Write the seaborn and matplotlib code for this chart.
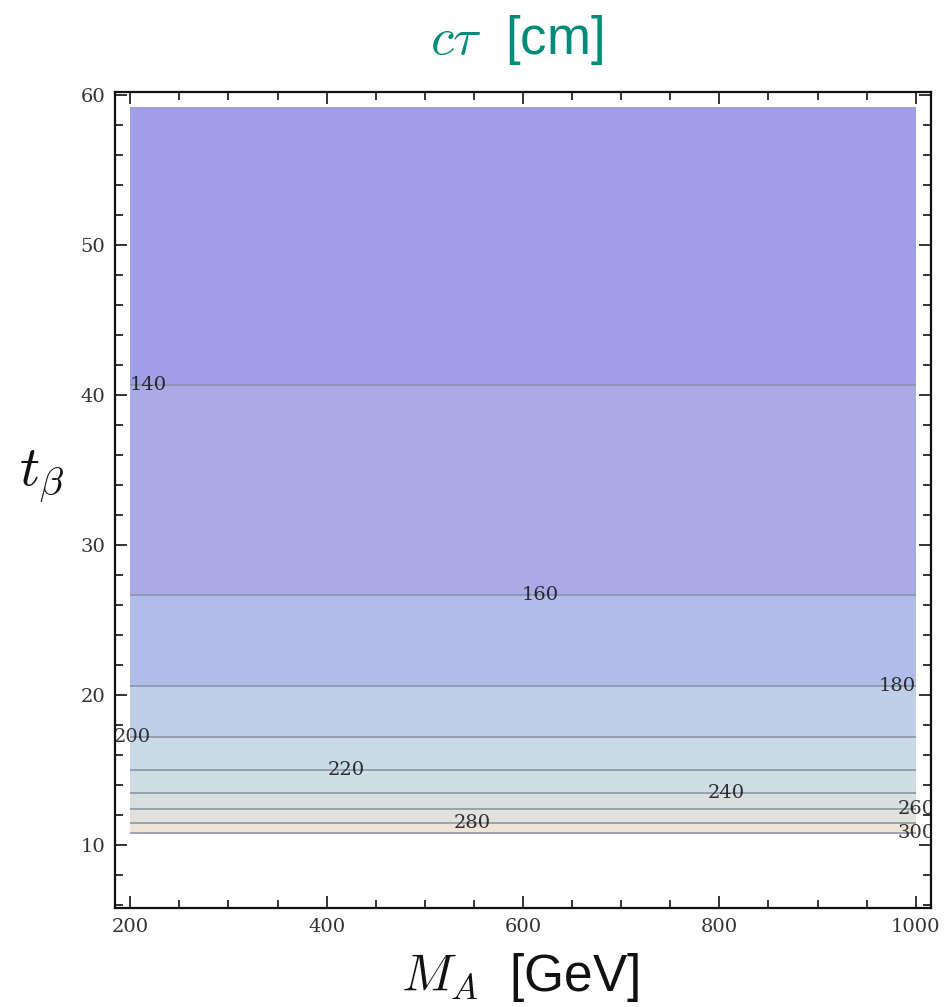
import numpy as np
import matplotlib
matplotlib.use("Agg")
import matplotlib.pyplot as plt
from matplotlib.ticker import MultipleLocator
import seaborn as sns

# Decay length c*tau [cm] versus t_beta (independent of M_A across the scan)
tb_rows = [59.2, 40.7, 26.7, 20.6, 17.2, 15.0, 13.5, 12.4, 11.45, 10.8, 10.72]
ct_rows = [124, 140, 160, 180, 200, 220, 240, 260, 280, 300, 301]
ma_cols = [200, 1000]

levels = [140, 160, 180, 200, 220, 240, 260, 280, 300]
fill_levels = [120, 140, 160, 180, 200, 220, 240, 260, 280, 302]
band_colors = ["#9f9fe8", "#a8abe6", "#b2bce8", "#bfcfe8", "#c7dae6",
               "#cfdee4", "#d8e0df", "#e2e2dc", "#ede5d8"]

# label anchor points (M_A, t_beta) along each contour
label_pos = [(218, 40.7), (618, 26.7), (981, 20.6), (202, 17.2), (420, 15.0),
             (807, 13.5), (1000, 12.4), (548, 11.45), (1000, 10.8)]

sns.set_theme(style="ticks")
plt.rcParams["mathtext.fontset"] = "cm"
plt.rcParams["font.family"] = ["Liberation Sans", "DejaVu Sans"]

fig = plt.figure(figsize=(9.45, 10.07), dpi=100)
ax = fig.add_axes([0.1217, 0.0983, 0.8635, 0.8103])

MA, TB = np.meshgrid(ma_cols, tb_rows)
CT = np.tile(np.array(ct_rows, dtype=float)[:, None], (1, len(ma_cols)))

ax.contourf(MA, TB, CT, levels=fill_levels,
            colors=sns.color_palette(band_colors), zorder=1)
cs = ax.contour(MA, TB, CT, levels=levels, colors="#8790a4",
                linewidths=1.3, alpha=0.85, zorder=2)
labels = ax.clabel(cs, levels=levels, inline=False, fmt="%d", fontsize=14,
                   colors="#111111", manual=label_pos)
for t in labels:
    t.set_fontfamily("DejaVu Serif")
    t.set_zorder(3)

ax.set_xlim(184.5, 1015.5)
ax.set_ylim(5.8, 60.2)
ax.xaxis.set_major_locator(MultipleLocator(200))
ax.xaxis.set_minor_locator(MultipleLocator(50))
ax.yaxis.set_major_locator(MultipleLocator(10))
ax.yaxis.set_minor_locator(MultipleLocator(2))
ax.tick_params(which="both", direction="in", top=True, right=True,
               labeltop=False, labelright=False, color="#111111", width=1.2)
ax.tick_params(which="major", length=8.5, labelsize=14, labelcolor="#333333", pad=7)
ax.tick_params(which="minor", length=5.5)
for lab in ax.get_xticklabels() + ax.get_yticklabels():
    lab.set_fontfamily("DejaVu Serif")
for sp in ax.spines.values():
    sp.set_linewidth(1.6)
    sp.set_color("#111111")
    sp.set_zorder(5)
    sp.set_visible(True)

fig.text(0.547, 0.960, r"$c\tau$  [cm]", color="#008b7a", fontsize=38,
         ha="center", va="center")
fig.text(0.550, 0.029, r"$M_A$  [GeV]", color="#111111", fontsize=37,
         ha="center", va="center")
fig.text(0.044, 0.527, r"$t_\beta$", color="#111111", fontsize=40,
         ha="center", va="center")

fig.savefig("out.png", dpi=100)
